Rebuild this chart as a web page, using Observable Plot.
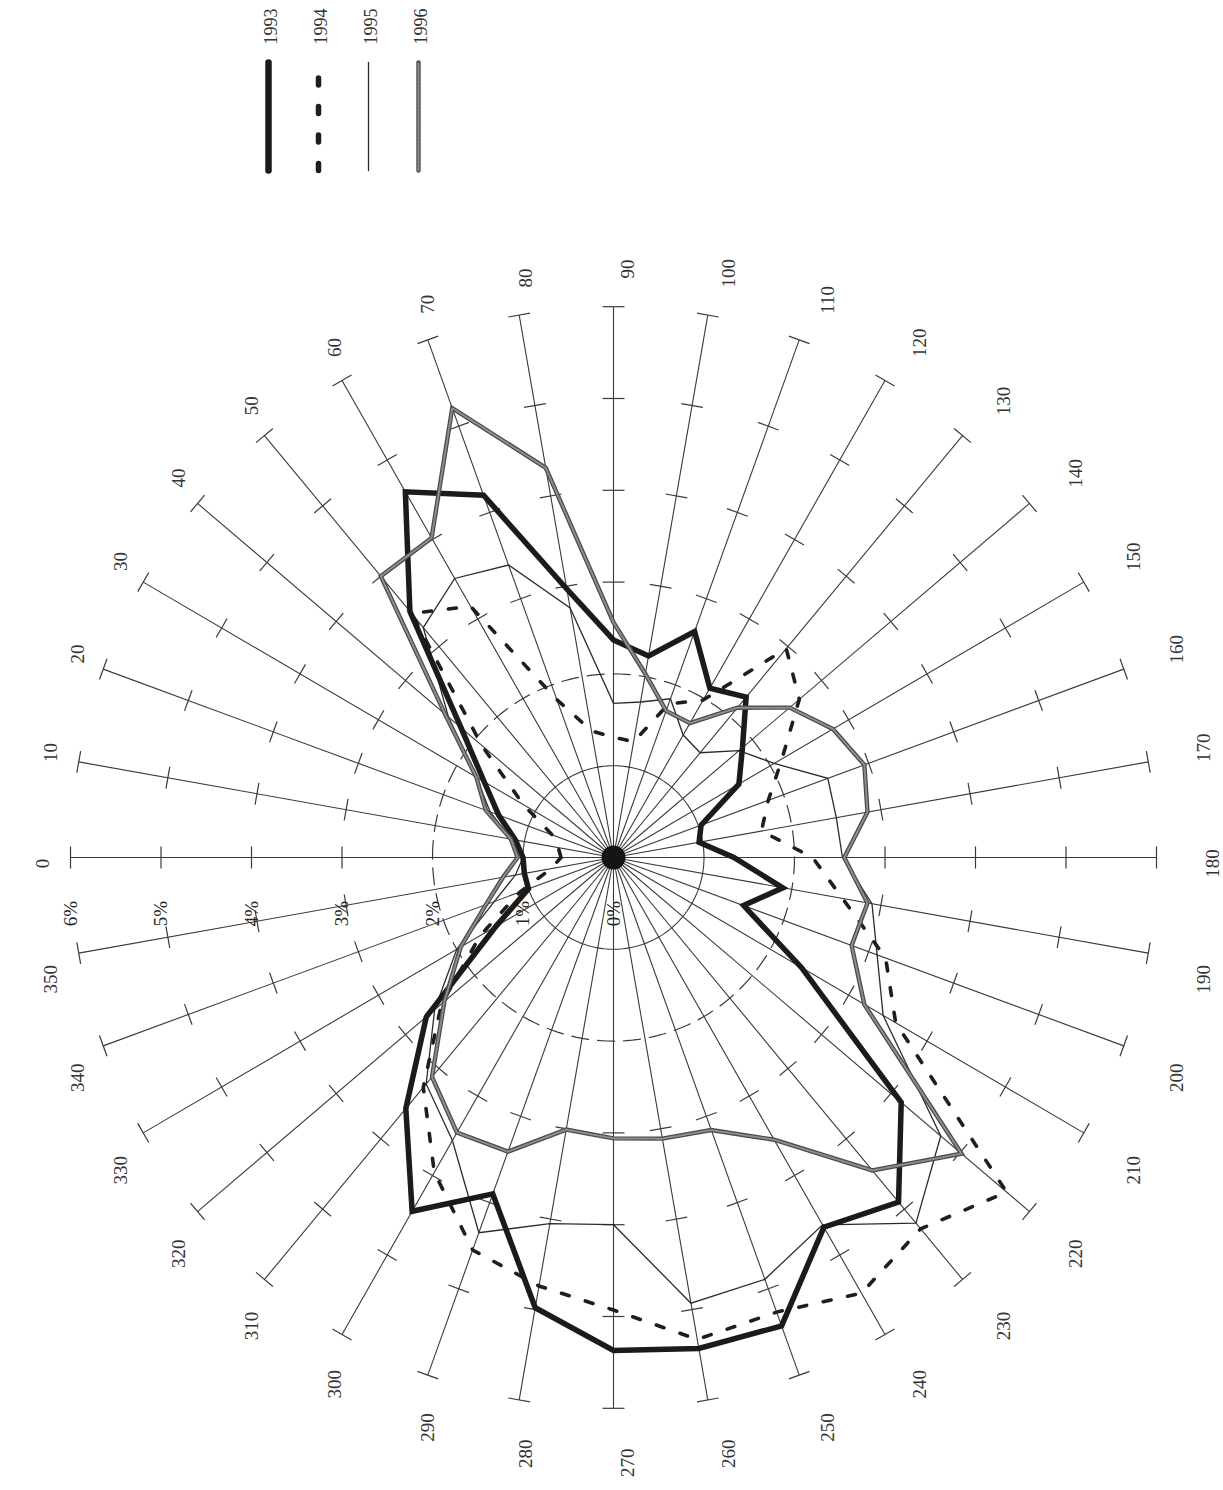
<!DOCTYPE html>
<html>
<head>
<meta charset="utf-8">
<script src="https://cdn.jsdelivr.net/npm/d3@7"></script>
<script src="https://cdn.jsdelivr.net/npm/@observablehq/plot@0.6"></script>
<style>
  html, body { margin: 0; padding: 0; background: #fff; }
  #chart { position: relative; width: 1223px; height: 1490px; overflow: hidden; }
  #chart > svg { position: absolute; left: 0; top: 0; }
</style>
</head>
<body>
<div id="chart"></div>
<script>
// Wind direction frequency (% of observations) per 10° sector, four years.
const directions = [0, 10, 20, 30, 40, 50, 60, 70, 80, 90, 100, 110, 120, 130, 140, 150, 160, 170,
                    180, 190, 200, 210, 220, 230, 240, 250, 260, 270, 280, 290, 300, 310, 320, 330, 340, 350];

const v1993 = [1.0, 1.1, 1.35, 1.65, 2.2, 3.5, 4.6, 4.2, 2.97, 2.37, 2.23, 2.62, 2.13, 2.28, 1.86, 1.6, 1.03, 0.96,
               1.33, 1.9, 1.53, 2.4, 4.15, 4.9, 4.65, 5.43, 5.43, 5.37, 4.98, 3.9, 4.45, 3.57, 2.7, 1.5, 1.0, 1.0];
const v1994 = [0.58, 0.62, 0.72, 1.15, 1.9, 3.47, 3.16, 1.83, 1.4, 1.31, 1.28, 1.78, 1.98, 2.97, 2.68, 2.15, 1.82, 1.66,
               2.2, 2.57, 3.2, 3.6, 5.67, 5.28, 5.48, 5.27, 5.33, 4.93, 4.74, 4.55, 3.96, 3.27, 2.48, 1.7, 1.1, 0.7];
const v1995 = [1.0, 1.15, 1.45, 1.75, 2.38, 3.27, 3.51, 3.39, 2.76, 1.68, 1.72, 1.84, 1.54, 1.49, 1.81, 2.05, 2.52, 2.5,
               2.53, 2.9, 3.1, 3.44, 4.72, 5.2, 4.62, 4.89, 4.93, 4.0, 4.05, 4.35, 3.56, 3.22, 2.58, 2.0, 1.4, 1.1];
const v1996 = [1.06, 1.15, 1.5, 1.75, 2.43, 4.0, 4.02, 5.21, 4.31, 2.56, 2.03, 1.7, 1.69, 2.13, 2.54, 2.8, 2.95, 2.85,
               2.55, 2.85, 2.8, 3.2, 5.02, 4.45, 3.55, 3.16, 3.11, 3.06, 3.01, 3.41, 3.46, 3.12, 2.44, 1.95, 1.5, 1.24];

const years = ["1993", "1994", "1995", "1996"];
const percentValues = [0, 1, 2, 3, 4, 5, 6];
const percentLabels = ["0%", "1%", "2%", "3%", "4%", "5%", "6%"];
const tickValues = [3, 4, 5, 6];      // cross ticks along each spoke (6 = end cap)
const spokeLength = 6;

// ---- layout ----
const W = 1223, H = 1490;
const cx = 613, cy = 857;            // pole position in pixels
const kx = 90.5, ky = 91.8;          // pixels per 1 %
const font = "'Liberation Serif', 'DejaVu Serif', serif";
const ink = "#262626";

// 0° points left, 90° up, 180° right, 270° down
const rad = d => d * Math.PI / 180;
const px = (v, d) => -v * Math.cos(rad(d));
const py = (v, d) => v * Math.sin(rad(d));

const rowsOf = vals => directions.map((d, i) => ({d, v: vals[i]}));
const circle = r => d3.range(0, 361, 2).map(a => ({a, r}));

// cross ticks, perpendicular to the spoke
const tickHalf = 11;
const ticks = directions.flatMap(d => tickValues.map(r => ({d, r})));
const tx = (t, s) => px(t.r, t.d) + s * (tickHalf / kx) * Math.sin(rad(t.d));
const ty = (t, s) => py(t.r, t.d) + s * (tickHalf / ky) * Math.cos(rad(t.d));

// spoke labels: anchored just beyond the cap, reading upwards
const labR = 585, labOx = 14, labOy = -6;
const lx = d => labOx / kx - (labR / kx) * Math.cos(rad(d));
const ly = d => labOy / ky + (labR / ky) * Math.sin(rad(d));
const upper = directions.filter(d => d > 0 && d < 180);
const lower = directions.filter(d => d > 180);
const sides = directions.filter(d => d === 0 || d === 180);

const lineXY = {x: r => px(r.v, r.d), y: r => py(r.v, r.d), curve: "linear-closed",
                strokeLinejoin: "miter", strokeMiterlimit: 6};

const labelStyle = {rotate: -90, fontSize: 19, fill: "#333", fontFamily: font};

const chart = Plot.plot({
  width: W, height: H,
  marginTop: 0, marginRight: 0, marginBottom: 0, marginLeft: 0,
  x: {domain: [-cx / kx, (W - cx) / kx], range: [0, W], axis: null},
  y: {domain: [-(H - cy) / ky, cy / ky], range: [H, 0], axis: null},
  style: {background: "#fff", fontFamily: font},
  marks: [
    // spokes
    Plot.link(directions, {x1: d => 0, y1: d => 0, x2: d => px(spokeLength, d), y2: d => py(spokeLength, d),
      stroke: "#3a3a3a", strokeWidth: 1.1}),
    // cross ticks
    Plot.link(ticks, {x1: t => tx(t, -1), y1: t => ty(t, -1), x2: t => tx(t, 1), y2: t => ty(t, 1),
      stroke: "#3a3a3a", strokeWidth: 1.2}),
    // 1 % ring (solid) and 2 % ring (dashed)
    Plot.line(circle(1), {x: p => px(p.r, p.a), y: p => py(p.r, p.a), stroke: "#3a3a3a", strokeWidth: 1.1}),
    Plot.line(circle(2), {x: p => px(p.r, p.a), y: p => py(p.r, p.a), stroke: "#3a3a3a", strokeWidth: 1.2,
      strokeDasharray: "17,9"}),
    // hub
    Plot.dot([0], {x: d => 0, y: d => 0, r: 12, fill: "#151515"}),

    // percentage scale
    Plot.text(percentValues, {x: v => -v, y: v => -56 / ky, text: (v, i) => percentLabels[i],
      rotate: -90, fontSize: 19, fill: ink, fontFamily: font}),

    // spoke labels
    Plot.text(upper, {x: lx, y: ly, text: d => String(d), textAnchor: "start", ...labelStyle}),
    Plot.text(lower, {x: lx, y: ly, text: d => String(d), textAnchor: "end", ...labelStyle}),
    Plot.text(sides, {x: lx, y: ly, text: d => String(d), textAnchor: "middle", ...labelStyle}),

    // series
    Plot.line(rowsOf(v1995), {...lineXY, stroke: "#2b2b2b", strokeWidth: 1.3}),
    Plot.line(rowsOf(v1994), {...lineXY, stroke: "#1e1e1e", strokeWidth: 3.6, strokeDasharray: "8,17"}),
    Plot.line(rowsOf(v1993), {...lineXY, stroke: "#1b1b1b", strokeWidth: 5.5}),
    Plot.line(rowsOf(v1996), {...lineXY, stroke: "#4a4a4a", strokeWidth: 4.4}),
    Plot.line(rowsOf(v1996), {...lineXY, stroke: "#8e8e8e", strokeWidth: 2, strokeDasharray: "2,1.5"})
  ]
});

// ---- legend (vertical samples with upward-reading year labels) ----
const legendRows = years.flatMap(y => [{year: y, t: 0}, {year: y, t: 1}]);
const only = y => legendRows.filter(r => r.year === y);
const legend = Plot.plot({
  width: W, height: 200,
  marginTop: 0, marginRight: 0, marginBottom: 0, marginLeft: 0,
  x: {type: "point", domain: years, range: [268, 418], padding: 0, axis: null},
  y: {domain: [0, 1], range: [170, 62], axis: null},
  style: {background: "transparent", fontFamily: font},
  marks: [
    Plot.line(only("1993"), {x: "year", y: "t", stroke: "#1b1b1b", strokeWidth: 6.5, strokeLinecap: "round"}),
    Plot.line(only("1994"), {x: "year", y: "t", stroke: "#1e1e1e", strokeWidth: 5.5, strokeDasharray: "7,21.5"}),
    Plot.line(only("1995"), {x: "year", y: "t", stroke: "#2b2b2b", strokeWidth: 1.3}),
    Plot.line(only("1996"), {x: "year", y: "t", stroke: "#4a4a4a", strokeWidth: 4.4}),
    Plot.line(only("1996"), {x: "year", y: "t", stroke: "#8e8e8e", strokeWidth: 2, strokeDasharray: "2,1.5"}),
    Plot.text(years, {x: d => d, y: d => 1, dy: -18, dx: 3, text: d => d, rotate: -90, textAnchor: "start",
      fontSize: 18, fill: "#333", fontFamily: font})
  ]
});
legend.style.background = "transparent";

const host = document.getElementById("chart");
host.appendChild(chart);
host.appendChild(legend);
</script>
</body>
</html>
